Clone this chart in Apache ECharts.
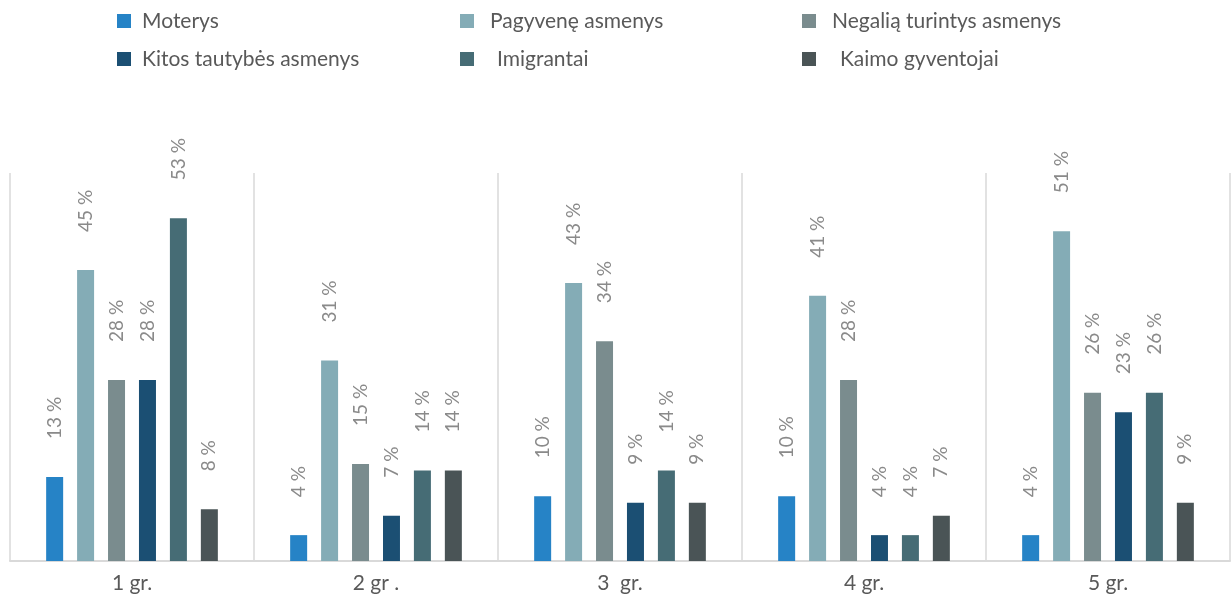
<!DOCTYPE html>
<html>
<head>
<meta charset="utf-8">
<script src="https://cdn.jsdelivr.net/npm/echarts@6/dist/echarts.min.js"></script>
<style>
html,body{margin:0;padding:0;background:#fff;}
#c{width:1231px;height:598px;}
</style>
</head>
<body>
<div id="c"></div>
<script>
const categories = ['1 gr.', '2 gr .', '3  gr.', '4 gr.', '5 gr.'];
const seriesNames = ['Moterys', 'Pagyvenę asmenys', 'Negalią turintys asmenys', 'Kitos tautybės asmenys', 'Imigrantai', 'Kaimo gyventojai'];
const moterys = [13, 4, 10, 10, 4];
const pagyvene = [45, 31, 43, 41, 51];
const negalia = [28, 15, 34, 28, 26];
const kitos = [28, 7, 9, 4, 23];
const imigrantai = [53, 14, 14, 4, 26];
const kaimo = [8, 14, 9, 7, 9];

const colors = ['#2683C6', '#84ACB6', '#7A8C8E', '#1B4F73', '#466C75', '#4A5456'];
const values = [moterys, pagyvene, negalia, kitos, imigrantai, kaimo];
const FONT = 'Lato';

// legend layout: [left, top, text padding]
const legendPos = [
  [117, 9, 6], [460, 9, 11], [802, 9, 11],
  [117, 47, 6], [460, 47, 18], [802, 47, 19]
];

const chart = echarts.init(document.getElementById('c'), null, {renderer: 'canvas'});
chart.setOption({
  animation: false,
  color: colors,
  legend: seriesNames.map((n, i) => ({
    data: [n],
    left: legendPos[i][0],
    top: legendPos[i][1],
    itemWidth: 14,
    itemHeight: 14,
    icon: 'rect',
    padding: 0,
    selectedMode: false,
    textStyle: {
      fontFamily: FONT, fontSize: 21, color: '#595959',
      padding: [0, 0, 0, legendPos[i][2]], lineHeight: 24
    }
  })),
  grid: {left: 10, right: 1, top: 173, bottom: 37, containLabel: false},
  xAxis: {
    type: 'category',
    data: categories,
    axisTick: {show: false},
    axisLine: {lineStyle: {color: '#d9d9d9', width: 2}},
    splitLine: {show: true, lineStyle: {color: '#d9d9d9', width: 1.5}},
    axisLabel: {fontFamily: FONT, fontSize: 21, color: '#595959', margin: 12}
  },
  yAxis: {type: 'value', min: 0, max: 60, show: false, splitLine: {show: false}},
  series: values.map((v, i) => ({
    name: seriesNames[i],
    type: 'bar',
    data: v,
    barWidth: 17,
    barGap: '82%',
    itemStyle: {color: colors[i]},
    label: {
      show: true,
      position: 'top',
      rotate: 90,
      align: 'left',
      verticalAlign: 'middle',
      distance: 38,
      formatter: '{c} %',
      fontFamily: FONT,
      fontSize: 19,
      color: '#8A8A8A'
    }
  }))
});
</script>
</body>
</html>
